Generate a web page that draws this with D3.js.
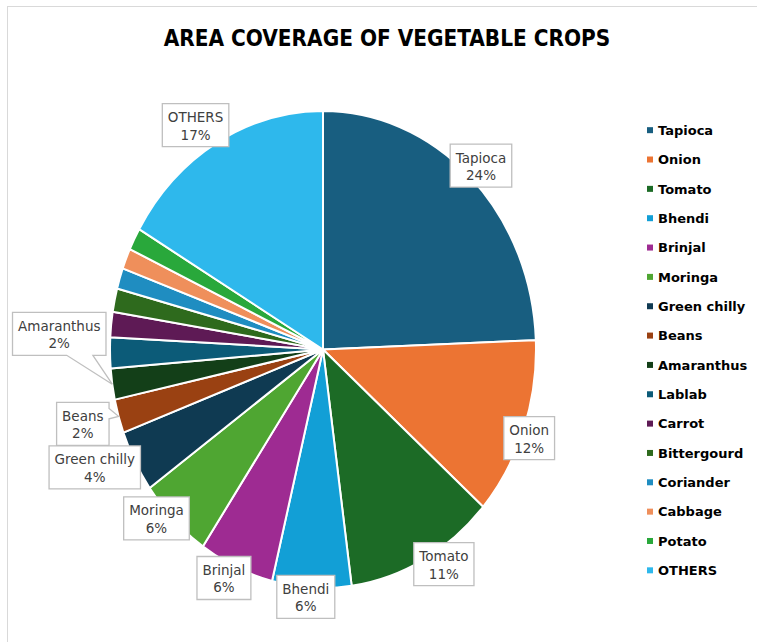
<!DOCTYPE html>
<html><head><meta charset="utf-8">
<script src="https://cdn.jsdelivr.net/npm/d3@7"></script>
<style>body{margin:0;background:#fff}svg{display:block}</style></head>
<body><svg id="c" width="757" height="642"></svg>
<script>
const title = "AREA COVERAGE OF VEGETABLE CROPS";
const categories = ["Tapioca","Onion","Tomato","Bhendi","Brinjal","Moringa","Green chilly","Beans","Amaranthus","Lablab","Carrot","Bittergourd","Coriander","Cabbage","Potato","OTHERS"];
const values = [24.4,12.1,11.4,6.0,5.7,5.6,4.2,2.3,2.1,2.1,1.7,1.6,1.4,1.4,1.5,16.6];
const colors = ["#185e80","#ec7433","#1c6b26","#129fd6","#9e2b92","#4fa632","#0f3a52","#9a4112","#133f18","#0c5b78","#5e1a55","#2e6a1d","#1f8dc1","#ef8f5b","#29a83b","#2eb8ec"];
const labelled = ["Tapioca","Onion","Tomato","Bhendi","Brinjal","Moringa","Green chilly","Beans","Amaranthus","OTHERS"];
// label layout: angular shift (deg) from slice middle, radial factor of the ellipse
const labelShift = [0,1.5,-4,1.4,1.8,3.4,3.2,0.8,11.4,-2.6];
const labelRadius = [1.07,1.037,1.064,1.04,1.065,1.055,1.18,1.17,1.24,1.115];
const calloutTail = {"Beans":{edge:"right",from:0.14,to:0.38},"Amaranthus":{edge:"bottom",from:0.58,to:0.86}};

const svg = d3.select("#c");
svg.append("rect").attr("x",7.5).attr("y",6.5).attr("width",760).attr("height",640)
  .attr("fill","#fff").attr("stroke","#d9d9d9").attr("stroke-width",1);

// title
const t = svg.append("text").attr("x",387).attr("y",46).attr("text-anchor","middle")
  .attr("font-family","'DejaVu Sans Condensed','DejaVu Sans'").attr("font-weight","bold").attr("font-size",20)
  .attr("fill","#000").text(title);
const tw = t.node().getComputedTextLength();
t.attr("font-size", 20*447/tw);

const cx = 323, cy = 349.5, rx = 213, ry = 238.5;
const pie = d3.pie().sort(null).value(d=>d.v);
const data = categories.map((c,i)=>({c, v:values[i], col:colors[i]}));
const arcs = pie(data);
const total = d3.sum(values);
const arc = d3.arc().innerRadius(0).outerRadius(ry);
const g = svg.append("g").attr("transform",`translate(${cx},${cy}) scale(${rx/ry},1)`);
g.selectAll("path").data(arcs).join("path")
  .attr("d",arc).attr("fill",d=>d.data.col)
  .attr("stroke","#fff").attr("stroke-width",2).attr("vector-effect","non-scaling-stroke")
  .attr("stroke-linejoin","round");

const pt = (a,r)=>[cx+rx*r*Math.sin(a), cy-ry*r*Math.cos(a)];

// labels
const lg = svg.append("g").attr("font-family","DejaVu Sans").attr("font-size",13.5).attr("fill","#404040");
labelled.forEach((name,k)=>{
  const d = arcs.find(a=>a.data.c===name);
  const mid = (d.startAngle+d.endAngle)/2 + labelShift[k]*Math.PI/180;
  const [bx,by] = pt(mid,labelRadius[k]);
  const pct = Math.round(d.data.v/total*100)+"%";
  const grp = lg.append("g");
  const path = grp.append("path").attr("fill","#fff").attr("stroke","#bfbfbf").attr("stroke-width",1.3);
  const t1 = grp.append("text").attr("x",bx).attr("y",by-3).attr("text-anchor","middle").text(name);
  const t2 = grp.append("text").attr("x",bx).attr("y",by+14.5).attr("text-anchor","middle").text(pct);
  const w = Math.max(t1.node().getComputedTextLength(), t2.node().getComputedTextLength()) + 11;
  const h = 43;
  const x0 = bx-w/2, x1 = bx+w/2, y0 = by-h/2, y1 = by+h/2;
  let p;
  const tail = calloutTail[name];
  if (tail) {
    const [tx,ty] = pt((d.startAngle+d.endAngle)/2, 1.0);
    if (tail.edge==="bottom") {
      const a1 = x0+tail.from*w, a2 = x0+tail.to*w;
      p = `M${x0},${y0}H${x1}V${y1}H${a2}L${tx},${ty}L${a1},${y1}H${x0}Z`;
    } else {
      const a1 = y0+tail.from*h, a2 = y0+tail.to*h;
      p = `M${x0},${y0}H${x1}V${a1}L${tx},${ty}L${x1},${a2}V${y1}H${x0}Z`;
    }
  } else {
    p = `M${x0},${y0}H${x1}V${y1}H${x0}Z`;
  }
  path.attr("d",p);
});

// legend
const leg = svg.append("g").attr("font-family","DejaVu Sans").attr("font-weight","bold").attr("font-size",13);
const ly = d3.scaleBand().domain(categories).range([115.5,585]);
categories.forEach((c,i)=>{
  const y = ly(c)+ly.bandwidth()/2;
  leg.append("rect").attr("x",647).attr("y",y-3).attr("width",6).attr("height",6).attr("fill",colors[i]);
  leg.append("text").attr("x",658).attr("y",y).attr("dy","0.36em").attr("fill","#000").text(c);
});
</script></body></html>
